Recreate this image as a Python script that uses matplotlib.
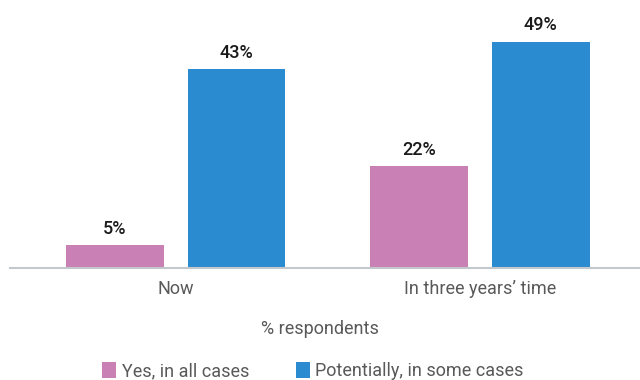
import matplotlib.pyplot as plt
import numpy as np

categories = ["Now", "In three years\u2019 time"]
yes_all = [5, 22]
potentially = [43, 49]
series_names = ["Yes, in all cases", "Potentially, in some cases"]

plt.rcParams["font.family"] = ["Roboto", "DejaVu Sans"]

pink = "#C980B5"
blue = "#2B8BD0"

fig = plt.figure(figsize=(6.4, 3.8), dpi=100)
ax = fig.add_axes([10 / 640, 112 / 380, 630 / 640, 268 / 380])

x = np.arange(len(categories))
w = 0.322
b1 = ax.bar(x - 0.202, yes_all, w, color=pink, label=series_names[0])
b2 = ax.bar(x + 0.199, potentially, w, color=blue, label=series_names[1])

# value labels above each bar
for bars, vals in ((b1, yes_all), (b2, potentially)):
    for r, v in zip(bars, vals):
        ax.text(r.get_x() + r.get_width() / 2, v + 1.6, f"{v}%",
                ha="center", va="bottom", fontsize=13, fontweight="medium",
                color="#1a1a1a")

ax.set_xlim(-0.546, 1.526)
ax.set_ylim(0, 58)
ax.set_yticks([])
ax.set_xticks(x)
ax.set_xticklabels(categories, fontsize=13, color="#595959")
ax.tick_params(axis="x", length=0, pad=9)
for s in ("top", "right", "left"):
    ax.spines[s].set_visible(False)
ax.spines["bottom"].set_color("#C3C8CC")
ax.spines["bottom"].set_linewidth(1.5)

fig.text(0.5, 1 - 329 / 380, "% respondents", ha="center", va="center",
         fontsize=13, color="#595959")

fig.legend(handles=[b1, b2], loc="center", bbox_to_anchor=(0.489, 1 - 371 / 380),
           ncol=2, frameon=False, fontsize=13, handlelength=0.78, handleheight=1.0,
           handletextpad=0.3, columnspacing=2.6, labelcolor="#595959")

fig.savefig("out.png", dpi=100)
